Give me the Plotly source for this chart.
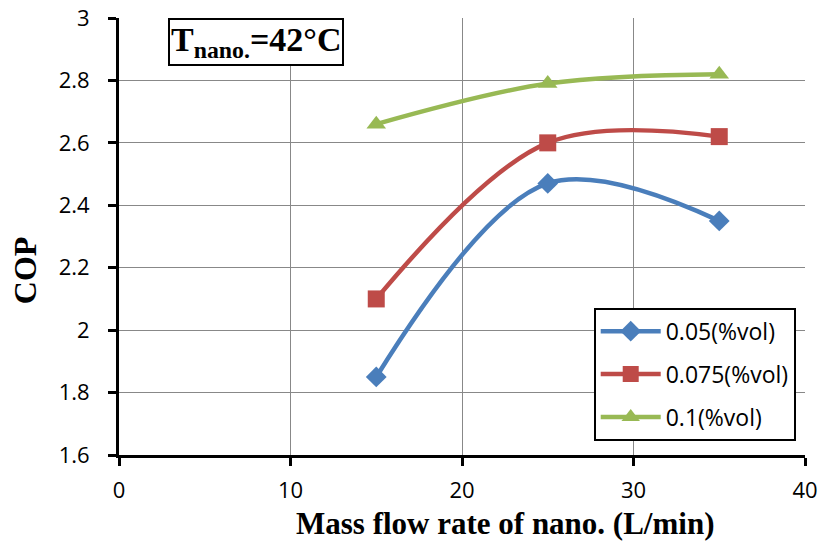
import plotly.graph_objects as go

flow = [15, 25, 35]
cop_005 = [1.85, 2.47, 2.35]
cop_0075 = [2.10, 2.60, 2.62]
cop_01 = [2.66, 2.79, 2.82]
names = ["0.05(%vol)", "0.075(%vol)", "0.1(%vol)"]
colors = ["#4a7ebb", "#be4b48", "#98b954"]
symbols = ["diamond", "square", "triangle-up"]
series = [cop_005, cop_0075, cop_01]

fig = go.Figure()
for i, (y, n, c, s) in enumerate(zip(series, names, colors, symbols)):
    fig.add_trace(go.Scatter(
        x=flow, y=y, name=n, mode="lines+markers", legendgroup=f"g{i}",
        line=dict(color=c, width=4.5, shape="spline", smoothing=1),
        marker=dict(symbol=s, size=17 if s != "diamond" else 16, color=c),
    ))

serif = "Liberation Serif"
fig.update_layout(
    width=819, height=542,
    margin=dict(l=119, r=14, t=18, b=87),
    plot_bgcolor="white", paper_bgcolor="white",
    font=dict(family="Open Sans", size=22, color="black"),
    showlegend=True,
    legend=dict(
        x=0.692, y=0.337, xanchor="left", yanchor="top",
        bgcolor="white", bordercolor="black", borderwidth=2,
        font=dict(family="Open Sans", size=23),
        tracegroupgap=10, itemwidth=60,
    ),
    annotations=[
        dict(xref="paper", yref="paper", x=0.071, y=1.0, xanchor="left", yanchor="top",
             text="<b>T<sub>nano.</sub>=42°C</b>", showarrow=False,
             font=dict(family=serif, size=34, color="black"),
             bordercolor="black", borderwidth=2, bgcolor="white", borderpad=1),
        dict(xref="paper", yref="paper", x=0.563, y=-0.156, xanchor="center", yanchor="middle",
             text="<b>Mass flow rate of nano. (L/min)</b>", showarrow=False,
             font=dict(family=serif, size=31, color="black")),
        dict(xref="paper", yref="paper", x=-0.137, y=0.423, xanchor="center", yanchor="middle",
             text="<b>COP</b>", showarrow=False, textangle=-90,
             font=dict(family=serif, size=32, color="black")),
    ],
)
fig.update_xaxes(
    range=[0, 40], dtick=10, showgrid=True, gridcolor="#888888", gridwidth=1,
    showline=True, linecolor="black", linewidth=3, ticks="outside", ticklen=8,
    tickwidth=3, tickcolor="black", zeroline=False, automargin=False,
    ticklabelstandoff=6,
)
fig.update_yaxes(
    range=[1.6, 3.0], dtick=0.2, showgrid=True, gridcolor="#888888", gridwidth=1,
    showline=True, linecolor="black", linewidth=3, ticks="outside", ticklen=8,
    tickwidth=3, tickcolor="black", zeroline=False, tickformat="~g", automargin=False,
    ticklabelstandoff=14,
)
fig.write_html("out.html")
